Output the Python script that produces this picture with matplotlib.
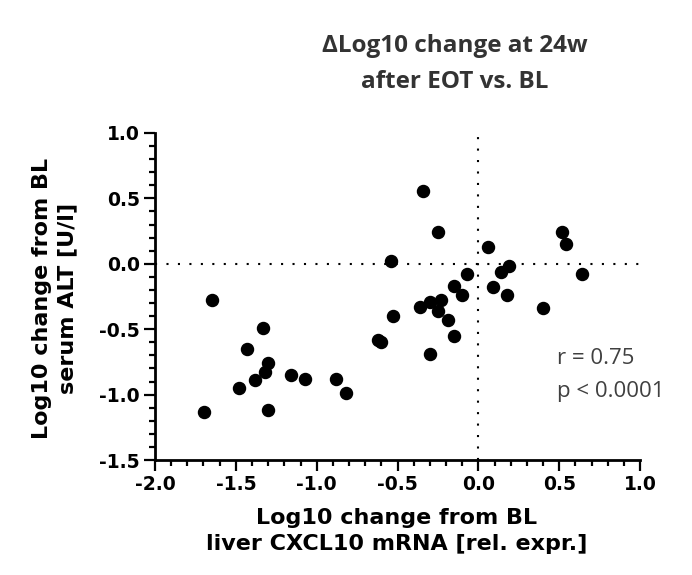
import numpy as np
import matplotlib
matplotlib.use("Agg")
from matplotlib import pyplot as plt
from matplotlib.ticker import MultipleLocator, FormatStrFormatter

# Log10 change in liver CXCL10 mRNA (x) vs serum ALT (y)
cxcl10 = [-1.65, -0.54, -0.53, -0.34, -0.25, 0.52, 0.54, 0.06, 0.19, 0.14,
          -0.07, 0.64, -0.15, 0.09, -0.10, 0.18, -0.36, -0.30, -0.23, -0.25,
          0.40, -0.19, -0.15, -0.30, -0.62, -0.60, -1.33, -1.43, -1.30, -1.32,
          -1.38, -1.48, -1.70, -1.30, -1.16, -1.07, -0.88, -0.82]
alt = [-0.28, 0.02, -0.40, 0.56, 0.24, 0.24, 0.15, 0.13, -0.02, -0.06,
       -0.08, -0.08, -0.17, -0.18, -0.24, -0.24, -0.33, -0.29, -0.28, -0.36,
       -0.34, -0.43, -0.55, -0.69, -0.58, -0.60, -0.49, -0.65, -0.76, -0.83,
       -0.89, -0.95, -1.13, -1.12, -0.85, -0.88, -0.88, -0.99]

title_lines = ["\u0394Log10 change at 24w", "after EOT vs. BL"]
stat_lines = ["r = 0.75", "p < 0.0001"]

plt.rcParams["font.family"] = "DejaVu Sans"
plt.rcParams["font.weight"] = "bold"

W, H = 692, 575
fig = plt.figure(figsize=(W / 100, H / 100), dpi=100)
ax = fig.add_axes([155 / W, 1 - 460 / H, 485 / W, 327 / H])

ax.scatter(cxcl10, alt, s=75, color="black", zorder=3, clip_on=False)

# dotted zero lines
ax.axhline(0, color="black", lw=1.5, ls=(0, (1, 4.5)), zorder=1)
ax.axvline(0, color="black", lw=1.5, ls=(0, (1, 4.5)), zorder=1)

ax.set_xlim(-2.0, 1.0)
ax.set_ylim(-1.5, 1.0)
ax.xaxis.set_major_locator(MultipleLocator(0.5))
ax.xaxis.set_minor_locator(MultipleLocator(0.1))
ax.yaxis.set_major_locator(MultipleLocator(0.5))
ax.yaxis.set_minor_locator(MultipleLocator(0.1))
ax.xaxis.set_major_formatter(FormatStrFormatter("%.1f"))
ax.yaxis.set_major_formatter(FormatStrFormatter("%.1f"))

for s in ["top", "right"]:
    ax.spines[s].set_visible(False)
for s in ["left", "bottom"]:
    ax.spines[s].set_linewidth(2)

ax.tick_params(which="major", length=8, width=1.6, direction="out",
               pad=3, labelsize=13.5)
ax.tick_params(which="minor", length=4.5, width=1.6, direction="out")

# axis labels
fig.text(397 / W, 1 - 531 / H, "Log10 change from BL\nliver CXCL10 mRNA [rel. expr.]",
         ha="center", va="center", fontsize=16, fontweight="bold",
         linespacing=1.4)
fig.text(55 / W, 1 - 298 / H, "Log10 change from BL\nserum ALT [U/l]",
         ha="center", va="center", rotation=90, fontsize=16,
         fontweight="bold", linespacing=1.35)

# correlation stats
for i, line in enumerate(stat_lines):
    fig.text(557 / W, 1 - (364 + 33 * i) / H, line, ha="left", va="baseline",
             fontfamily="Open Sans", fontweight="normal", fontsize=16,
             color="#404040")

# title
for i, line in enumerate(title_lines):
    fig.text(455 / W, 1 - (52 + 36 * i) / H, line, ha="center", va="baseline",
             fontfamily="Open Sans", fontweight="bold", fontsize=17.5,
             color="#333333")

fig.savefig("out.png", dpi=100)
